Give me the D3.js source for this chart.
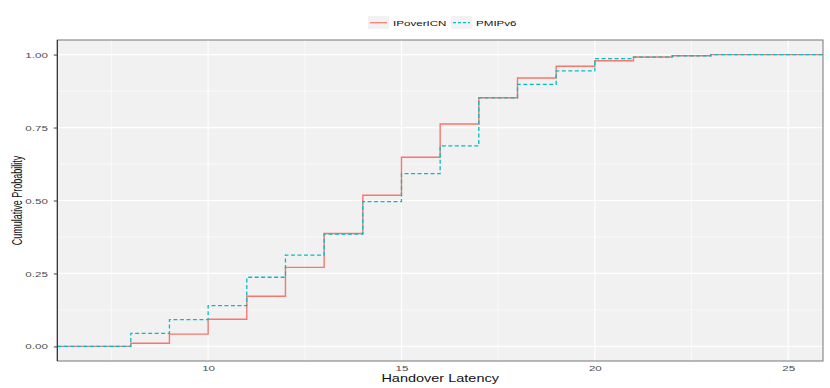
<!DOCTYPE html>
<html>
<head>
<meta charset="utf-8">
<script src="https://cdn.jsdelivr.net/npm/d3@7"></script>
<style>
  body { margin: 0; background: #fff; }
  text { font-family: "Liberation Sans", Arial, sans-serif; }
</style>
</head>
<body>
<svg id="chart" width="830" height="388"></svg>
<script>
// handover latency values where the ECDF steps
const latency = [7, 8, 9, 10, 11, 12, 13, 14, 15, 16, 17, 18, 19, 20, 21, 22, 23, 24, 25];
const ipovericn = [0, 0.011, 0.042, 0.093, 0.172, 0.271, 0.387, 0.518, 0.648, 0.762, 0.852, 0.920, 0.960, 0.979, 0.992, 0.996, 1, 1, 1];
const pmipv6 = [0, 0.045, 0.092, 0.140, 0.237, 0.313, 0.385, 0.496, 0.592, 0.687, 0.852, 0.898, 0.944, 0.986, 0.991, 0.996, 1, 1, 1];
const seriesNames = ['IPoverICN', 'PMIPv6'];
const xTicks = [10, 15, 20, 25];
const yTicks = [0, 0.25, 0.5, 0.75, 1];

const colors = ['#F8766D', '#00BFC4'];
const stretch = 1.45;

const margin = { left: 57.3, right: 7, top: 40, bottom: 27 };
const W = 830, H = 388;
const svg = d3.select('#chart');

// ggplot style 5% expansion
const xMin = d3.min(latency), xMax = d3.max(latency);
const xPad = (xMax - xMin) * 0.05;
const x = d3.scaleLinear()
  .domain([xMin - xPad, xMax + xPad])
  .range([margin.left, W - margin.right]);
const y = d3.scaleLinear()
  .domain([-0.05, 1.05])
  .range([H - margin.bottom, margin.top]);

const [px0, px1] = x.range();
const [py1, py0] = y.range();

// panel
svg.append('rect')
  .attr('x', px0).attr('y', py0)
  .attr('width', px1 - px0).attr('height', py1 - py0)
  .attr('fill', '#F1F1F1');

// minor grid
const xMinor = [7.5, 12.5, 17.5, 22.5];
const yMinor = [0.125, 0.375, 0.625, 0.875];
svg.append('g').selectAll('line').data(xMinor).join('line')
  .attr('x1', d => x(d)).attr('x2', d => x(d))
  .attr('y1', py0).attr('y2', py1)
  .attr('stroke', '#fff').attr('stroke-width', 0.6);
svg.append('g').selectAll('line').data(yMinor).join('line')
  .attr('y1', d => y(d)).attr('y2', d => y(d))
  .attr('x1', px0).attr('x2', px1)
  .attr('stroke', '#fff').attr('stroke-width', 0.6);

// major grid
svg.append('g').selectAll('line').data(xTicks).join('line')
  .attr('x1', d => x(d)).attr('x2', d => x(d))
  .attr('y1', py0).attr('y2', py1)
  .attr('stroke', '#fff').attr('stroke-width', 1.2);
svg.append('g').selectAll('line').data(yTicks).join('line')
  .attr('y1', d => y(d)).attr('y2', d => y(d))
  .attr('x1', px0).attr('x2', px1)
  .attr('stroke', '#fff').attr('stroke-width', 1.2);

// step lines
const line = d3.line()
  .x(d => x(d[0]))
  .y(d => y(d[1]))
  .curve(d3.curveStepAfter);

const allSeries = [ipovericn, pmipv6];
allSeries.forEach((vals, i) => {
  const pts = [[x.domain()[0], 0]]
    .concat(latency.map((l, j) => [l, vals[j]]))
    .concat([[x.domain()[1], vals[vals.length - 1]]]);
  svg.append('path')
    .attr('d', line(pts))
    .attr('fill', 'none')
    .attr('stroke', colors[i])
    .attr('stroke-width', i === 0 ? 1.4 : 1.3)
    .attr('stroke-dasharray', i === 0 ? null : '4,2.5');
});

// panel border
svg.append('rect')
  .attr('x', px0).attr('y', py0)
  .attr('width', px1 - px0).attr('height', py1 - py0)
  .attr('fill', 'none').attr('stroke', '#777').attr('stroke-width', 1);

// y axis
const yAxis = svg.append('g')
  .attr('transform', `translate(${px0},0)`)
  .call(d3.axisLeft(y).tickValues(yTicks).tickFormat(d3.format('.2f')).tickSize(3.5).tickPadding(0));
yAxis.select('.domain').attr('stroke', '#222').attr('d', `M0,${py0}V${py1}`);
yAxis.selectAll('.tick line').attr('stroke', '#444');
yAxis.selectAll('.tick text')
  .attr('x', -6.5)
  .attr('transform', `scale(${stretch},1)`)
  .attr('fill', '#4d4d4d')
  .attr('font-size', 8)
  .attr('font-family', '"Liberation Sans", Arial, sans-serif');

// x axis
const xAxis = svg.append('g')
  .attr('transform', `translate(0,${py1})`)
  .call(d3.axisBottom(x).tickValues(xTicks).tickSize(0).tickPadding(0));
xAxis.select('.domain').remove();
xAxis.selectAll('.tick text')
  .attr('y', 4)
  .attr('transform', `scale(${stretch},1)`)
  .attr('fill', '#4d4d4d')
  .attr('font-size', 8)
  .attr('font-family', '"Liberation Sans", Arial, sans-serif');

// axis titles
svg.append('text')
  .attr('transform', `translate(${(px0 + px1) / 2},382) scale(${stretch},1)`)
  .attr('text-anchor', 'middle')
  .attr('font-size', 10)
  .attr('fill', '#111')
  .text('Handover Latency');

svg.append('text')
  .attr('transform', `translate(21.5,${(py0 + py1) / 2}) scale(1.65,1) rotate(-90)`)
  .attr('text-anchor', 'middle')
  .attr('font-size', 9)
  .attr('fill', '#111')
  .text('Cumulative Probability');

// legend
const legend = svg.append('g');
const legendX = [368, 451];
seriesNames.forEach((name, i) => {
  const g = legend.append('g').attr('transform', `translate(${legendX[i]},16)`);
  g.append('rect').attr('width', 21).attr('height', 13).attr('fill', '#F2F2F2');
  g.append('line')
    .attr('x1', 2).attr('x2', 19).attr('y1', 6.7).attr('y2', 6.7)
    .attr('stroke', colors[i]).attr('stroke-width', 1.2)
    .attr('stroke-dasharray', i === 0 ? null : '3,2');
  g.append('text')
    .attr('transform', `translate(25,9.8) scale(${stretch},1)`)
    .attr('font-size', 8)
    .attr('fill', '#111')
    .text(name);
});
</script>
</body>
</html>
